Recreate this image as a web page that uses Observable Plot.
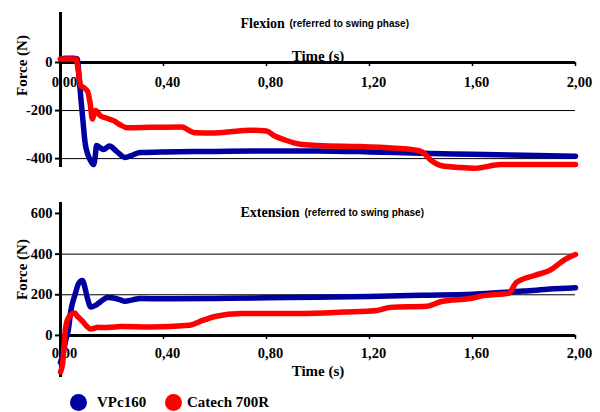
<!DOCTYPE html>
<html>
<head>
<meta charset="utf-8">
<script src="https://cdn.jsdelivr.net/npm/d3@7"></script>
<script src="https://cdn.jsdelivr.net/npm/@observablehq/plot@0.6"></script>
<style>
  body { margin: 0; background: #fff; }
  #wrap { width: 600px; height: 412px; position: relative; overflow: hidden; }
  #wrap svg { display: block; }
  #legend { position: absolute; left: 0; top: 390px; width: 600px; height: 22px;
    font-family: "Liberation Serif", serif; font-weight: bold; font-size: 15px; color: #000; }
  .dot { position: absolute; width: 17px; height: 17px; border-radius: 50%; top: 4px; }
  .lab { position: absolute; top: 3px; line-height: 18px; }
</style>
</head>
<body>
<div id="wrap"></div>
<script>
// ---------- data ----------
const xTicks = [0, 0.4, 0.8, 1.2, 1.6, 2.0];
const flexYTicks = [0, -200, -400];
const extYTicks = [0, 200, 400, 600];
const flexGrid = [-200, -400];
const extGrid = [200, 400];
const seriesNames = ["VPc160", "Catech 700R"];
const seriesColors = ["#0000a0", "#ff0000"];

// Flexion (referred to swing phase)
const flexBlueT = [0, 0.02, 0.05, 0.065, 0.072, 0.08, 0.087, 0.095, 0.105, 0.115, 0.128, 0.135, 0.14, 0.155, 0.167, 0.19, 0.22, 0.25, 0.28, 0.31, 0.4, 0.6, 0.8, 1.0, 1.2, 1.4, 1.6, 1.8, 2.0];
const flexBlueF = [15, 18, 18, 15, -60, -160, -240, -330, -380, -405, -425, -390, -345, -355, -362, -348, -372, -395, -385, -375, -372, -370, -368, -368, -372, -378, -382, -386, -390];
const flexRedT = [0, 0.03, 0.06, 0.07, 0.078, 0.09, 0.105, 0.115, 0.124, 0.13, 0.136, 0.155, 0.18, 0.206, 0.23, 0.26, 0.35, 0.47, 0.52, 0.6, 0.74, 0.8, 0.83, 0.87, 0.93, 1.0, 1.165, 1.32, 1.4, 1.44, 1.48, 1.55, 1.61, 1.71, 1.8, 2.0];
const flexRedF = [15, 15, 15, -40, -95, -105, -120, -170, -235, -215, -200, -222, -232, -242, -258, -272, -270, -268, -292, -293, -282, -285, -305, -322, -340, -345, -350, -358, -370, -408, -430, -437, -440, -425, -425, -425];

// Extension (referred to swing phase)
const extBlueT = [0, 0.01, 0.02, 0.03, 0.04, 0.058, 0.07, 0.085, 0.095, 0.105, 0.118, 0.136, 0.155, 0.183, 0.2, 0.233, 0.25, 0.28, 0.31, 0.4, 0.6, 0.8, 1.0, 1.2, 1.4, 1.6, 1.71, 1.8, 1.9, 2.0];
const extBlueF = [-133, -90, -25, 25, 120, 207, 255, 270, 235, 180, 140, 148, 165, 187, 185, 175, 168, 175, 182, 180, 182, 185, 188, 192, 198, 203, 211, 218, 228, 235];
const extRedT = [0, 0.008, 0.019, 0.03, 0.047, 0.055, 0.065, 0.085, 0.1, 0.117, 0.128, 0.144, 0.167, 0.194, 0.233, 0.35, 0.5, 0.555, 0.6, 0.7, 0.93, 1.1, 1.23, 1.28, 1.42, 1.48, 1.59, 1.65, 1.74, 1.77, 1.84, 1.9, 1.96, 2.0];
const extRedF = [-180, -140, 30, 85, 108, 110, 95, 70, 48, 32, 34, 40, 39, 40, 44, 42, 50, 75, 93, 108, 108, 115, 123, 138, 143, 167, 182, 197, 207, 260, 295, 320, 374, 398];

// ---------- helpers ----------
const fmtX = d => d3.format(".2f")(d).replace(".", ",");
const zip = (t, f) => t.map((v, i) => ({t: v, f: f[i]}));
const serif = "'Liberation Serif', 'Times New Roman', serif";
const sans = "'Liberation Sans', Arial, sans-serif";

function panel({height, marginTop, marginBottom, domain, yTicks, grid, blue, red, title, tickDrop, timeMark}) {
  return Plot.plot({
    width: 600, height, marginLeft: 60, marginRight: 25, marginTop, marginBottom,
    style: {fontFamily: serif, fontWeight: "bold", fontSize: "14px", color: "#000", background: "#fff", overflow: "visible"},
    x: {domain: [0, 2], axis: null},
    y: {domain},
    marks: [
      Plot.ruleY(grid, {stroke: "#000", strokeWidth: 1}),
      Plot.axisY({ticks: yTicks, tickSize: 5, tickPadding: 3, label: null, tickFormat: d => String(d), fontSize: 14.5, fontWeight: "bold", stroke: "#000", strokeWidth: 2}),
      Plot.ruleX([0], {stroke: "#000", strokeWidth: 3}),
      Plot.ruleY([0], {stroke: "#000", strokeWidth: 3}),
      Plot.ruleX(xTicks.slice(1), {x: d => d, y1: 0, y2: tickDrop, stroke: "#000", strokeWidth: 1.5}),
      Plot.text(xTicks, {x: d => d, y: 0, dy: title.labelDy, dx: 4, text: fmtX, fontSize: 14.5, fontWeight: "bold", fill: "#000"}),
      Plot.line(blue, {x: "t", y: "f", stroke: seriesColors[0], strokeWidth: 5.5, curve: "monotone-x"}),
      Plot.line(red, {x: "t", y: "f", stroke: seriesColors[1], strokeWidth: 5.5, curve: "monotone-x"}),
      Plot.text([title.main], {frameAnchor: "top-left", dx: 180, dy: title.dy, textAnchor: "start", fontSize: 14, fontWeight: "bold", fill: "#000"}),
      Plot.text([title.sub], {frameAnchor: "top-left", dx: title.subDx, dy: title.dy + 1, textAnchor: "start", fontSize: 10, fontWeight: "bold", fontFamily: sans, fill: "#000"}),
      Plot.text(["Time (s)"], timeMark),
      Plot.text(["Force (N)"], {frameAnchor: "left", dx: -38, dy: title.forceDy, rotate: -90, fontSize: 15, fontWeight: "bold", fill: "#000"})
    ]
  });
}

const flexChart = panel({
  height: 185, marginTop: 12, marginBottom: 18,
  domain: [-437, 208], yTicks: flexYTicks, grid: flexGrid,
  blue: zip(flexBlueT, flexBlueF), red: zip(flexRedT, flexRedF),
  tickDrop: -17,
  title: {main: "Flexion", sub: "(referred to swing phase)", dy: 6, subDx: 229, labelDy: 20, forceDy: 6},
  timeMark: {frameAnchor: "top", dy: 38, fontSize: 15, fontWeight: "bold", fill: "#000"}
});

const extChart = panel({
  height: 205, marginTop: 17, marginBottom: 13,
  domain: [-207, 654], yTicks: extYTicks, grid: extGrid,
  blue: zip(extBlueT, extBlueF), red: zip(extRedT, extRedF),
  tickDrop: -20,
  title: {main: "Extension", sub: "(referred to swing phase)", dy: 5, subDx: 244, labelDy: 18, forceDy: 10},
  timeMark: {frameAnchor: "bottom", dy: -2, fontSize: 15, fontWeight: "bold", fill: "#000"}
});

const wrap = document.getElementById("wrap");
wrap.appendChild(flexChart);
wrap.appendChild(extChart);

// legend
const legend = document.createElement("div");
legend.id = "legend";
const lx = [[70, 97], [165, 187]];
seriesNames.forEach((name, i) => {
  const dot = document.createElement("span");
  dot.className = "dot";
  dot.style.left = lx[i][0] + "px";
  dot.style.background = seriesColors[i];
  const lab = document.createElement("span");
  lab.className = "lab";
  lab.style.left = lx[i][1] + "px";
  lab.textContent = name;
  legend.appendChild(dot);
  legend.appendChild(lab);
});
wrap.appendChild(legend);
</script>
</body>
</html>
